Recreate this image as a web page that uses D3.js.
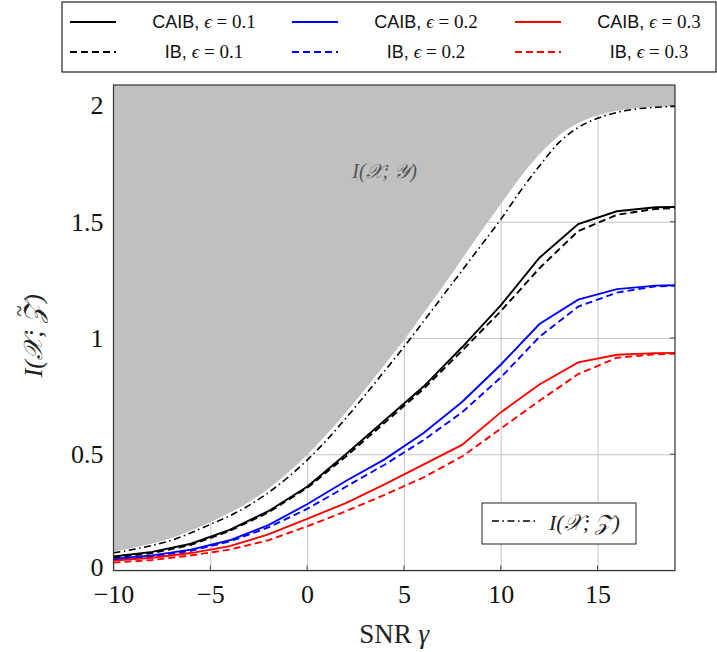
<!DOCTYPE html>
<html>
<head>
<meta charset="utf-8">
<script src="https://cdn.jsdelivr.net/npm/d3@7"></script>
<style>
  body { margin: 0; background: #fff; }
  svg { display: block; }
  .tick text { font-family: "Liberation Serif", "DejaVu Serif", serif; }
</style>
</head>
<body>
<div id="chart"></div>
<script>
// data
const snrCoarse = [-10, -8, -6, -4, -2, 0, 2, 4, 6, 8, 10, 12, 14, 16, 18, 20];
const caib01 = [0.060, 0.080, 0.115, 0.175, 0.255, 0.360, 0.500, 0.645, 0.790, 0.960, 1.140, 1.345, 1.490, 1.545, 1.562, 1.565];
const ib01   = [0.055, 0.075, 0.110, 0.170, 0.250, 0.355, 0.490, 0.635, 0.780, 0.945, 1.115, 1.300, 1.460, 1.530, 1.555, 1.563];
const caib02 = [0.050, 0.065, 0.090, 0.130, 0.195, 0.285, 0.385, 0.478, 0.590, 0.725, 0.885, 1.060, 1.165, 1.210, 1.225, 1.228];
const ib02   = [0.045, 0.060, 0.085, 0.125, 0.185, 0.265, 0.360, 0.455, 0.560, 0.680, 0.830, 1.005, 1.135, 1.195, 1.222, 1.227];
const caib03 = [0.043, 0.055, 0.075, 0.105, 0.155, 0.222, 0.290, 0.370, 0.455, 0.540, 0.680, 0.800, 0.895, 0.928, 0.935, 0.937];
const ib03   = [0.034, 0.045, 0.065, 0.090, 0.130, 0.190, 0.255, 0.325, 0.400, 0.490, 0.610, 0.730, 0.845, 0.915, 0.930, 0.935];

const snrFine = [-10, -9, -8, -7, -6, -5, -4, -3, -2, -1, 0, 1, 2, 3, 4, 5, 6, 7, 8, 9, 10, 11, 12, 13, 14, 15, 16, 17, 18, 19];
const infoXY = [0.082, 0.097, 0.116, 0.140, 0.172, 0.208, 0.248, 0.295, 0.352, 0.420, 0.497, 0.585, 0.680, 0.780, 0.885, 0.990, 1.105, 1.220, 1.340, 1.460, 1.575, 1.690, 1.790, 1.870, 1.925, 1.957, 1.977, 1.989, 1.995, 1.998];
const infoXZ = [0.076, 0.090, 0.108, 0.130, 0.162, 0.198, 0.235, 0.280, 0.335, 0.400, 0.475, 0.560, 0.655, 0.755, 0.858, 0.962, 1.070, 1.180, 1.290, 1.400, 1.510, 1.630, 1.740, 1.840, 1.905, 1.945, 1.970, 1.985, 1.992, 1.996];

const xTicks = [-10, -5, 0, 5, 10, 15];
const yTicks = [0, 0.5, 1, 1.5, 2];

const series = [
  { name: "CAIB", eps: "0.1", values: caib01, color: "#000000", dash: null },
  { name: "CAIB", eps: "0.2", values: caib02, color: "#0000ff", dash: null },
  { name: "CAIB", eps: "0.3", values: caib03, color: "#ff0000", dash: null },
  { name: "IB", eps: "0.1", values: ib01, color: "#000000", dash: "7,4" },
  { name: "IB", eps: "0.2", values: ib02, color: "#0000ff", dash: "7,4" },
  { name: "IB", eps: "0.3", values: ib03, color: "#ff0000", dash: "7,4" }
];

const serif = "Liberation Serif, DejaVu Serif, serif";

// 차트 크기
const W = 717, H = 652;
const margin = { top: 85, right: 42, bottom: 81.5, left: 113.5 };
const width = W - margin.left - margin.right;
const height = H - margin.top - margin.bottom;

const root = d3.select("#chart").append("svg")
  .attr("width", W)
  .attr("height", H);

const svg = root.append("g")
  .attr("transform", `translate(${margin.left},${margin.top})`);

const x = d3.scaleLinear().domain([-10, 19]).range([0, width]);
const y = d3.scaleLinear().domain([0, 2.088]).range([height, 0]);

svg.append("clipPath").attr("id", "clip")
  .append("rect").attr("width", width).attr("height", height);

// grid
svg.append("g")
  .attr("transform", `translate(0,${height})`)
  .call(d3.axisBottom(x).tickValues(xTicks).tickSize(-height).tickFormat(""))
  .call(g => g.select(".domain").remove())
  .call(g => g.selectAll("line").attr("stroke", "#c4c4c4").attr("stroke-width", 1));

svg.append("g")
  .call(d3.axisLeft(y).tickValues(yTicks).tickSize(-width).tickFormat(""))
  .call(g => g.select(".domain").remove())
  .call(g => g.selectAll("line").attr("stroke", "#c4c4c4").attr("stroke-width", 1));

const plot = svg.append("g").attr("clip-path", "url(#clip)");

// gray area above I(X;Y)
const xy = snrFine.map((s, i) => [s, infoXY[i]]);
plot.append("path")
  .datum(xy)
  .attr("fill", "#c0c0c0")
  .attr("d", d3.area().x(d => x(d[0])).y0(0).y1(d => y(d[1])).curve(d3.curveMonotoneX));

plot.append("text")
  .attr("x", x(4))
  .attr("y", y(1.69))
  .attr("text-anchor", "middle")
  .attr("font-family", serif)
  .attr("font-style", "italic")
  .attr("font-size", 20)
  .attr("fill", "#555")
  .text("I(𝒳; 𝒴)");

// inner tick marks
svg.append("g").selectAll("line").data(xTicks).join("line")
  .attr("x1", d => x(d)).attr("x2", d => x(d))
  .attr("y1", height).attr("y2", height - 5)
  .attr("stroke", "#444");
svg.append("g").selectAll("line").data(yTicks).join("line")
  .attr("x1", width).attr("x2", width - 5)
  .attr("y1", d => y(d)).attr("y2", d => y(d))
  .attr("stroke", "#444");

// I(X;Z)
plot.append("path")
  .datum(snrFine.map((s, i) => [s, infoXZ[i]]))
  .attr("fill", "none")
  .attr("stroke", "#000")
  .attr("stroke-width", 1.6)
  .attr("stroke-dasharray", "7,3.5,1.5,3.5")
  .attr("d", d3.line().x(d => x(d[0])).y(d => y(d[1])).curve(d3.curveMonotoneX));

const lineLin = d3.line().x(d => x(d[0])).y(d => y(d[1]));
series.slice().reverse().forEach(s => {
  plot.append("path")
    .datum(snrCoarse.map((v, i) => [v, s.values[i]]))
    .attr("fill", "none")
    .attr("stroke", s.color)
    .attr("stroke-width", 1.9)
    .attr("stroke-dasharray", s.dash)
    .attr("d", lineLin);
});

// frame
svg.append("rect")
  .attr("width", width).attr("height", height)
  .attr("fill", "none").attr("stroke", "#333").attr("stroke-width", 1.2);

// axis labels
svg.append("g")
  .attr("transform", `translate(0,${height})`)
  .call(d3.axisBottom(x).tickValues(xTicks).tickSize(0).tickPadding(14))
  .call(g => g.select(".domain").remove())
  .call(g => g.selectAll("text").attr("font-size", 26).attr("fill", "#111"));

svg.append("g")
  .call(d3.axisLeft(y).tickValues(yTicks).tickSize(0).tickPadding(10).tickFormat(d3.format("~g")))
  .call(g => g.select(".domain").remove())
  .call(g => g.selectAll("text").attr("font-size", 26).attr("fill", "#111")
    .attr("dy", d => d === 0 ? "0.2em" : "0.32em"));

svg.append("text")
  .attr("x", width / 2)
  .attr("y", height + 72)
  .attr("text-anchor", "middle")
  .attr("font-family", serif)
  .attr("font-size", 27)
  .attr("fill", "#222")
  .html('SNR <tspan font-style="italic">γ</tspan>');

// y label: I(X; Z~) with tilde drawn above Z
const ylab = svg.append("g")
  .attr("transform", `translate(-72,${height / 2 + 8}) rotate(-90)`);
const ytxt = ylab.append("text")
  .attr("font-family", serif)
  .attr("font-style", "italic")
  .attr("font-size", 26)
  .attr("fill", "#222");
ytxt.append("tspan").text("I(𝒳; ");
ytxt.append("tspan").text("𝒵");
ytxt.append("tspan").text(")");
const fullW = ytxt.node().getComputedTextLength();
ytxt.attr("x", -fullW / 2);
const zi = ytxt.text().indexOf("𝒵");
const zStart = ytxt.node().getStartPositionOfChar(zi);
const zEnd = ytxt.node().getEndPositionOfChar(zi);
ylab.append("text")
  .attr("x", (zStart.x + zEnd.x) / 2 + 2)
  .attr("y", -16)
  .attr("text-anchor", "middle")
  .attr("font-family", serif)
  .attr("font-size", 20)
  .attr("fill", "#222")
  .text("~");

// inner legend
const inner = svg.append("g").attr("transform", `translate(${482 - margin.left},${503 - margin.top})`);
inner.append("rect").attr("width", 154).attr("height", 41)
  .attr("fill", "#fff").attr("stroke", "#222");
inner.append("line").attr("x1", 10).attr("x2", 56).attr("y1", 18).attr("y2", 18)
  .attr("stroke", "#000").attr("stroke-width", 1.6).attr("stroke-dasharray", "7,3.5,1.5,3.5");
inner.append("text").attr("x", 67).attr("y", 27)
  .attr("font-family", serif)
  .attr("font-style", "italic").attr("font-size", 22).attr("fill", "#222")
  .text("I(𝒳; 𝒵)");

// top legend
const legend = root.append("g");
legend.append("rect").attr("x", 62).attr("y", 2).attr("width", 654).attr("height", 70)
  .attr("fill", "#fff").attr("stroke", "#222").attr("stroke-width", 1.2);

const colX = [70, 292, 515];
const rowY = [22, 52];
series.forEach((s, i) => {
  const c = i % 3, r = Math.floor(i / 3);
  const g = legend.append("g").attr("transform", `translate(${colX[c]},${rowY[r]})`);
  g.append("line").attr("x1", 0).attr("x2", 46).attr("y1", 0).attr("y2", 0)
    .attr("stroke", s.color).attr("stroke-width", 2).attr("stroke-dasharray", s.dash);
  const t = g.append("text").attr("x", 134).attr("y", 6)
    .attr("text-anchor", "middle")
    .attr("font-family", "Liberation Sans, Arial, sans-serif")
    .attr("font-size", 18).attr("fill", "#111");
  t.append("tspan").text(s.name + ", ");
  t.append("tspan").attr("font-family", serif)
    .attr("font-style", "italic").attr("font-size", 19).text("ϵ");
  t.append("tspan").attr("font-family", serif)
    .attr("font-size", 19).text(" = " + s.eps);
});
</script>
</body>
</html>
